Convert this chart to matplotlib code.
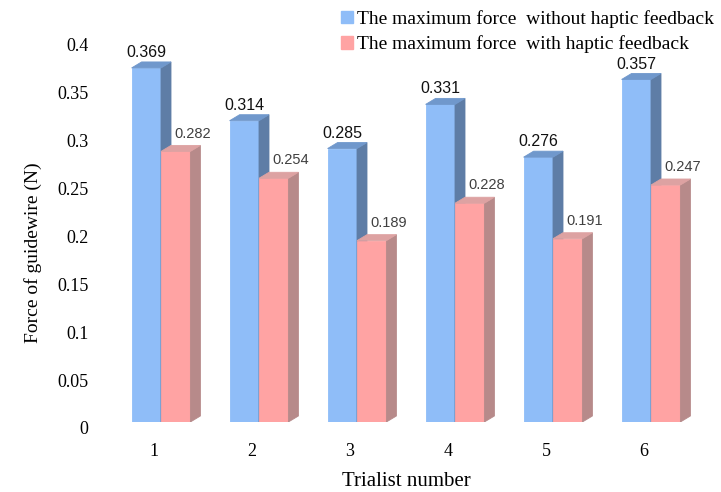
import matplotlib.pyplot as plt
from matplotlib.patches import Polygon
from matplotlib.transforms import ScaledTranslation

# 数据
trials = ["1", "2", "3", "4", "5", "6"]
force_without = [0.369, 0.314, 0.285, 0.331, 0.276, 0.357]
force_with = [0.282, 0.254, 0.189, 0.228, 0.191, 0.247]
y_ticks = [0, 0.05, 0.1, 0.15, 0.2, 0.25, 0.3, 0.35, 0.4]
y_tick_labels = ["0", "0.05", "0.1", "0.15", "0.2", "0.25", "0.3", "0.35", "0.4"]

# 颜色: 正面 / 侧面 / 顶面
blue = ("#8FBDF8", "#5E7DA6", "#7098CC")
red = ("#FFA3A3", "#B78A8A", "#DDA2A2")

fig = plt.figure(figsize=(7.21, 4.92), dpi=100)
ax = fig.add_axes([112 / 721, 70 / 492, 588 / 721, 403 / 492])
ax.set_xlim(0.5, 6.5)
ax.set_ylim(0, 0.42)

width = 0.3
# 立体效果的深度 (像素换算成数据单位)
dx = 10 / 98
dy = 6 / 959


def draw_bar(x0, v, cols, z):
    front, side, top = cols
    x1 = x0 + width
    ax.add_patch(Polygon([(x0, 0), (x1, 0), (x1, v), (x0, v)], closed=True,
                         facecolor=front, edgecolor=front, lw=0.6, zorder=z))
    ax.add_patch(Polygon([(x1, 0), (x1 + dx, dy), (x1 + dx, v + dy), (x1, v)], closed=True,
                         facecolor=side, edgecolor=side, lw=0.6, zorder=z))
    ax.add_patch(Polygon([(x0, v), (x0 + dx, v + dy), (x1 + dx, v + dy), (x1, v)], closed=True,
                         facecolor=top, edgecolor=top, lw=0.6, zorder=z))


for i in range(len(trials)):
    xc = i + 1
    draw_bar(xc - width, force_without[i], blue, 2 + 2 * i)
    draw_bar(xc, force_with[i], red, 3 + 2 * i)
    ax.text(xc - width / 2, force_without[i] + dy + 0.002, f"{force_without[i]:.3f}",
            ha="center", va="bottom", fontsize=11.5, color="#111111",
            family="Liberation Sans", zorder=20)
    ax.text(xc + width / 2 + 0.17, force_with[i] + dy + 0.005, f"{force_with[i]:.3f}",
            ha="center", va="bottom", fontsize=10.5, color="#404040",
            family="Liberation Sans", zorder=20)

for s in ax.spines.values():
    s.set_visible(False)

ax.set_xticks(range(1, len(trials) + 1))
ax.set_xticklabels(trials, family="Liberation Serif", fontsize=13)
ax.set_yticks(y_ticks)
ax.set_yticklabels(y_tick_labels, family="Liberation Serif", fontsize=13)
ax.tick_params(length=0)
ax.tick_params(axis="y", pad=17)
ax.tick_params(axis="x", pad=15)

# 刻度标签微调位置
for lab in ax.get_xticklabels():
    lab.set_transform(lab.get_transform() + ScaledTranslation(-7 / 100, 0, fig.dpi_scale_trans))
for lab in ax.get_yticklabels():
    lab.set_transform(lab.get_transform() + ScaledTranslation(0, -6 / 100, fig.dpi_scale_trans))

ax.set_xlabel("Trialist number", family="Liberation Serif", fontsize=15, labelpad=9)
ax.set_ylabel("Force of guidewire (N)", family="Liberation Serif", fontsize=14, labelpad=11)
ax.yaxis.label.set_y(0.42)

# 图例
h1 = plt.Rectangle((0, 0), 1, 1, color=blue[0])
h2 = plt.Rectangle((0, 0), 1, 1, color=red[0])
ax.legend([h1, h2],
          ["The maximum force  without haptic feedback", "The maximum force  with haptic feedback"],
          loc="upper right", bbox_to_anchor=(727 / 721, 1.006), bbox_transform=fig.transFigure,
          frameon=False, prop={"family": "Liberation Serif", "size": 14},
          handlelength=0.6, handleheight=0.6, handletextpad=0.25, labelspacing=0.4,
          borderpad=0.15)

fig.savefig("out.png", dpi=100)
